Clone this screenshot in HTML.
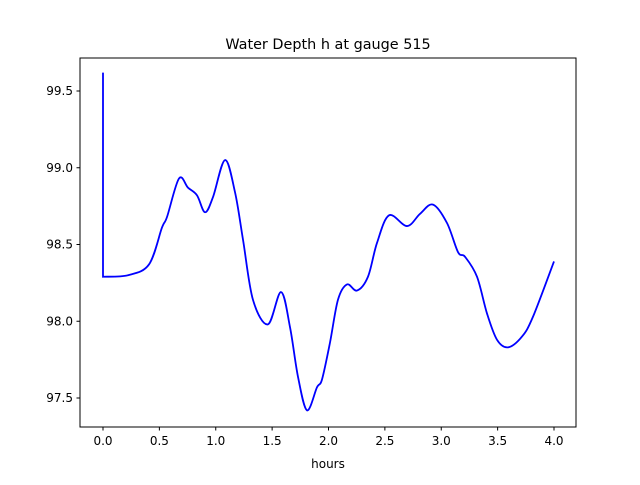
<!DOCTYPE html>
<html><head><meta charset="utf-8"><style>
html,body{margin:0;padding:0;background:#fff;}
svg text{font-family:"DejaVu Sans","Liberation Sans",sans-serif;fill:#000;}
</style></head><body>
<svg id="chart" width="640" height="480" xmlns="http://www.w3.org/2000/svg">
<rect width="640" height="480" fill="#fff"/>
<text x="328" y="49" font-size="14.4" text-anchor="middle">Water Depth h at gauge 515</text>
<g id="plot"></g>
<rect x="80" y="58" width="496" height="369" fill="none" stroke="#000" stroke-width="1"/>
<g id="xticks"></g>
<g id="yticks"></g>
<text x="328" y="468" font-size="12" text-anchor="middle">hours</text>
</svg>
<script>
const times = [0,0,0.222,0.408,0.523,0.568,0.674,0.754,0.834,0.905,0.976,1.082,1.171,1.242,1.330,1.463,1.579,1.659,1.729,1.809,1.898,1.942,2.013,2.084,2.164,2.253,2.350,2.430,2.537,2.696,2.812,2.927,3.051,3.149,3.211,3.317,3.406,3.494,3.592,3.716,3.814,4.0];
const depths = [99.62,98.29,98.30,98.37,98.61,98.68,98.93,98.87,98.82,98.71,98.81,99.05,98.84,98.53,98.14,97.98,98.19,97.96,97.64,97.42,97.57,97.62,97.86,98.14,98.24,98.20,98.29,98.51,98.69,98.62,98.70,98.76,98.64,98.45,98.42,98.29,98.05,97.88,97.83,97.90,98.03,98.39];
const xTicks = [0.0,0.5,1.0,1.5,2.0,2.5,3.0,3.5,4.0];
const yTicks = [97.5,98.0,98.5,99.0,99.5];

const X = t => 103 + (t - 0) * (554 - 103) / 4;
const Y = h => 398 - (h - 97.5) * (398 - 91) / 2;
const NS = 'http://www.w3.org/2000/svg';

const pts = times.map((t,i)=>[X(t),Y(depths[i])]);
let d = `M${pts[0][0]},${pts[0][1]} L${pts[1][0]},${pts[1][1]}`;
for (let i=1;i<pts.length-1;i++){
  const p0=pts[Math.max(1,i-1)],p1=pts[i],p2=pts[i+1],p3=pts[Math.min(pts.length-1,i+2)];
  const c1=[p1[0]+(p2[0]-p0[0])/6,p1[1]+(p2[1]-p0[1])/6];
  const c2=[p2[0]-(p3[0]-p1[0])/6,p2[1]-(p3[1]-p1[1])/6];
  d+=` C${c1[0]},${c1[1]} ${c2[0]},${c2[1]} ${p2[0]},${p2[1]}`;
}
const path=document.createElementNS(NS,'path');
path.setAttribute('d',d);
path.setAttribute('fill','none');
path.setAttribute('stroke','#0000ff');
path.setAttribute('stroke-width','1.8');


document.getElementById('plot').appendChild(path);

const xg=document.getElementById('xticks');
xTicks.forEach(v=>{
  const x=X(v);
  const l=document.createElementNS(NS,'line');
  l.setAttribute('x1',x);l.setAttribute('x2',x);l.setAttribute('y1',427);l.setAttribute('y2',430.5);
  l.setAttribute('stroke','#000');
  
  
  xg.appendChild(l);
  const t=document.createElementNS(NS,'text');
  t.setAttribute('x',x);t.setAttribute('y',445);t.setAttribute('font-size','12');t.setAttribute('text-anchor','middle');
  t.textContent=v.toFixed(1);
  
  
  xg.appendChild(t);
});
const yg=document.getElementById('yticks');
yTicks.forEach(v=>{
  const y=Y(v);
  const l=document.createElementNS(NS,'line');
  l.setAttribute('x1',76.5);l.setAttribute('x2',80);l.setAttribute('y1',y);l.setAttribute('y2',y);
  l.setAttribute('stroke','#000');
  
  
  yg.appendChild(l);
  const t=document.createElementNS(NS,'text');
  t.setAttribute('x',73);t.setAttribute('y',y+4);t.setAttribute('font-size','12');t.setAttribute('text-anchor','end');
  t.textContent=v.toFixed(1);
  
  
  yg.appendChild(t);
});
</script>
</body></html>
